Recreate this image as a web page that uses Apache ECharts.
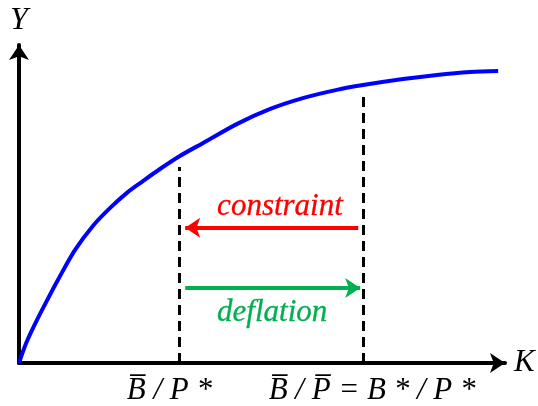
<!DOCTYPE html>
<html>
<head>
<meta charset="utf-8">
<script src="https://cdn.jsdelivr.net/npm/echarts@6/dist/echarts.min.js"></script>
<style>
  html, body { margin: 0; padding: 0; background: #fff; }
  #main { width: 538px; height: 406px; }
</style>
</head>
<body>
<div id="main"></div>
<script>
// curve Y(K) (axis units 0..100)
var curveK = [0, 1.4, 3.3, 5.4, 8.0, 11.5, 15.2, 18.7, 22.2, 25.5, 29.0, 33.1, 37.9, 44.9, 51.7, 58.4, 65.4, 70.8, 79.0, 86.0, 92.8, 98.6];
var curveY = [0, 6.0, 12.3, 18.6, 26.1, 35.5, 43.1, 48.7, 53.5, 57.2, 61.0, 65.1, 69.2, 75.2, 79.9, 83.3, 85.9, 87.4, 89.3, 90.6, 91.5, 91.8];

// the two marked K positions and where their dashed lines stop
var tickK = [33.0, 70.8];
var tickLabels = ['B\u0305 / P *', 'B\u0305 / P\u0305 = B * / P *'];
var dashTop = [61.6, 84.9];

// arrows: [fromK, toK, Y]
var arrowConstraint = [69.8, 34.2, 42.5];
var arrowDeflation = [34.2, 70.2, 23.6];

// annotation texts
var noteNames = ['constraint', 'deflation'];
var noteK = [53.7, 52.1];
var noteY = [49.1, 15.7];
var noteColors = ['#ff0000', '#00b050'];

var serif = '"Liberation Serif", "DejaVu Serif", serif';

var chart = echarts.init(document.getElementById('main'), null, { renderer: 'canvas' });

var curveData = curveK.map(function (k, i) { return [k, curveY[i]]; });
var dashData = tickK.map(function (k, i) {
  return { coords: [[k, 0], [k, dashTop[i]]] };
});
var noteData = noteNames.map(function (n, i) {
  return {
    name: n,
    value: [noteK[i], noteY[i]],
    label: { color: noteColors[i], textBorderColor: noteColors[i] }
  };
});

var option = {
  backgroundColor: '#ffffff',
  animation: false,
  grid: { left: 19, right: 33, top: 45, bottom: 43, containLabel: false },
  xAxis: {
    type: 'value',
    min: 0,
    max: 100,
    name: 'K',
    nameLocation: 'end',
    nameGap: 9,
    nameTextStyle: { fontFamily: serif, fontStyle: 'italic', fontSize: 31, color: '#000', verticalAlign: 'middle' },
    axisLine: {
      show: true,
      symbol: ['none', 'arrow'],
      symbolSize: [15, 15],
      lineStyle: { color: '#000', width: 4 }
    },
    axisTick: { show: false },
    splitLine: { show: false },
    axisLabel: {
      show: true,
      customValues: tickK,
      margin: 12,
      color: '#000',
      formatter: function (v) {
        var i = tickK.indexOf(v);
        if (i < 0) return '';
        return '{' + (i === 0 ? 'l' : 'r') + '|' + tickLabels[i] + '}';
      },
      rich: {
        l: { fontFamily: serif, fontStyle: 'italic', fontSize: 31, color: '#000', padding: [0, 20, 0, 0] },
        r: { fontFamily: serif, fontStyle: 'italic', fontSize: 31, color: '#000', padding: [0, 0, 0, 18] }
      }
    }
  },
  yAxis: {
    type: 'value',
    min: 0,
    max: 100,
    name: 'Y',
    nameLocation: 'end',
    nameGap: 8,
    nameTextStyle: { fontFamily: serif, fontStyle: 'italic', fontSize: 32, color: '#000', align: 'center' },
    axisLine: {
      show: true,
      symbol: ['none', 'arrow'],
      symbolSize: [15, 15],
      lineStyle: { color: '#000', width: 4 }
    },
    axisTick: { show: false },
    axisLabel: { show: false },
    splitLine: { show: false }
  },
  series: [
    {
      type: 'line',
      data: curveData,
      smooth: 0.3,
      showSymbol: false,
      lineStyle: { color: '#0000ff', width: 4 },
      z: 3
    },
    {
      type: 'lines',
      coordinateSystem: 'cartesian2d',
      data: dashData,
      symbol: 'none',
      lineStyle: { color: '#000', width: 3, type: [10, 6], opacity: 1 },
      z: 2
    },
    {
      type: 'lines',
      coordinateSystem: 'cartesian2d',
      data: [{ coords: [[arrowConstraint[0], arrowConstraint[2]], [arrowConstraint[1], arrowConstraint[2]]] }],
      symbol: ['none', 'arrow'],
      symbolSize: 15,
      lineStyle: { color: '#ff0000', width: 4, opacity: 1 },
      z: 4
    },
    {
      type: 'lines',
      coordinateSystem: 'cartesian2d',
      data: [{ coords: [[arrowDeflation[0], arrowDeflation[2]], [arrowDeflation[1], arrowDeflation[2]]] }],
      symbol: ['none', 'arrow'],
      symbolSize: 15,
      lineStyle: { color: '#00b050', width: 4, opacity: 1 },
      z: 4
    },
    {
      type: 'scatter',
      data: noteData,
      symbolSize: 0,
      itemStyle: { opacity: 1 },
      label: {
        show: true,
        position: 'inside',
        formatter: '{b}',
        fontFamily: serif,
        fontStyle: 'italic',
        fontSize: 31,
        opacity: 1,
        textBorderWidth: 0.3
      },
      z: 5
    }
  ]
};

chart.setOption(option);
</script>
</body>
</html>
